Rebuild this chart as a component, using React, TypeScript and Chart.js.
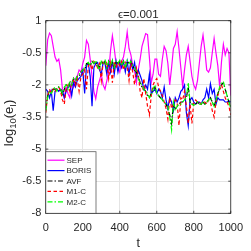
import React, { useEffect, useRef } from "react";
import { Chart, registerables } from "chart.js";

Chart.register(...registerables);

const T = [
  0, 10, 20, 30, 40, 50, 60, 70, 80, 90, 100, 110, 120, 130, 140, 150, 160, 170, 180, 190,
  200, 210, 220, 230, 240, 250, 260, 270, 280, 290, 300, 310, 320, 330, 340, 350, 360, 370, 380, 390,
  400, 410, 420, 430, 440, 450, 460, 470, 480, 490, 500, 510, 520, 530, 540, 550, 560, 570, 580, 590,
  600, 610, 620, 630, 640, 650, 660, 670, 680, 690, 700, 710, 720, 730, 740, 750, 760, 770, 780, 790,
  800, 810, 820, 830, 840, 850, 860, 870, 880, 890, 900, 910, 920, 930, 940, 950, 960, 970, 980, 990, 1000,
];

const SEP = [
  -1.1, 0.1, 0.42, 0.3, -0.2, -0.7, -0.9, -0.8, -1.3, -2.2, -2.6, -2.1, -2.4, -2.6, -1.9, -2.1, -1.7, -1.6, -1.3, -1.4,
  -1.0, -0.7, 0.08, -0.1, -0.8, -1.6, -2.3, -2.65, -2.1, -1.8, -1.5, -2.0, -2.2, -1.8, -1.4, -0.4, 0.3, -0.3, -1.0, -1.2,
  -1.4, -0.9, -0.7, -0.2, 0.47, -0.3, -0.6, -1.1, -1.35, -1.9, -1.3, -0.8, -0.2, 0.1, 0.4, 0.35, -0.7, -1.9, -1.5, -0.8,
  -0.8, -1.5, -1.6, -0.8, -0.2, -0.4, -1.0, -2.0, -1.2, -0.3, -0.1, 0.49, -0.3, -1.2, -2.1, -1.3, -0.6, -0.2, -0.9, -1.6,
  -2.0, -2.2, -1.8, -1.0, -0.2, 0.33, -0.4, -1.3, -1.4, -1.2, -0.5, 0.17, -0.5, -1.1, -2.1, -0.9, -0.1, -0.6, -0.3, -0.5, -2.5,
];

const BORIS = [
  -2.2, -2.3, -2.6, -2.3, -3.2, -2.3, -2.2, -2.3, -2.2, -2.3, -2.6, -2.3, -2.1, -2.0, -2.5, -1.9, -2.1, -1.8, -1.7, -1.6,
  -1.3, -2.4, -1.1, -1.0, -1.6, -3.0, -1.2, -1.0, -0.95, -1.3, -1.5, -0.95, -1.0, -1.5, -0.95, -1.4, -0.9, -1.5, -0.9, -1.4,
  -0.95, -1.2, -0.9, -1.4, -0.9, -1.5, -0.9, -1.3, -0.95, -1.6, -1.3, -1.55, -1.8, -2.2, -2.0, -2.2, -1.5, -2.4, -2.3, -2.2,
  -2.4, -2.2, -2.3, -2.6, -2.1, -2.7, -3.1, -2.6, -2.8, -3.2, -2.6, -2.8, -2.6, -2.3, -2.2, -2.0, -3.3, -3.9, -2.7, -2.6,
  -2.8, -2.9, -2.8, -2.8, -2.9, -2.7, -2.6, -2.2, -2.6, -1.95, -2.4, -2.2, -2.9, -2.6, -2.7, -2.7, -2.7, -2.8, -2.8, -2.75, -2.8,
];

const AVF = [
  -3.1, -2.5, -2.3, -2.3, -2.2, -2.2, -2.2, -2.1, -2.2, -2.5, -2.2, -2.0, -2.1, -1.9, -2.0, -1.7, -1.9, -1.6, -1.6, -1.4,
  -1.3, -1.3, -1.0, -1.0, -1.1, -0.9, -1.0, -0.9, -1.1, -1.2, -0.9, -1.0, -0.9, -1.2, -0.9, -1.1, -0.9, -1.2, -0.9, -1.0,
  -0.9, -1.1, -0.9, -1.2, -0.9, -1.0, -0.9, -1.1, -1.3, -1.4, -1.6, -1.9, -2.1, -2.2, -2.3, -2.5, -2.6, -2.4, -2.2, -2.1,
  -2.4, -2.5, -2.6, -2.7, -2.8, -2.9, -3.1, -3.4, -3.8, -2.9, -3.1, -3.0, -2.9, -2.8, -2.8, -2.7, -2.6, -2.1, -2.8, -2.9,
  -2.9, -2.9, -2.8, -2.9, -2.9, -2.8, -2.9, -2.8, -2.7, -2.6, -2.8, -3.0, -2.7, -2.4, -2.2, -2.0, -1.9, -2.2, -2.5, -2.8, -3.0,
];

const M1C = [
  -3.3, -2.5, -2.2, -2.4, -2.2, -2.3, -2.2, -2.1, -2.3, -2.7, -2.9, -2.2, -2.0, -2.3, -1.9, -1.8, -2.0, -1.7, -2.3, -1.6,
  -1.5, -1.3, -2.2, -1.1, -1.0, -1.3, -0.9, -1.0, -1.2, -1.0, -1.8, -0.95, -1.1, -0.9, -1.7, -1.0, -1.9, -0.9, -1.2, -0.95,
  -1.1, -0.9, -1.3, -0.95, -1.1, -1.8, -1.0, -1.4, -2.0, -1.2, -1.5, -2.3, -2.6, -1.7, -2.4, -3.0, -3.4, -2.5, -2.0, -1.8,
  -1.7, -2.1, -2.3, -2.5, -2.8, -3.1, -3.6, -2.6, -3.1, -2.9, -2.7, -2.8, -3.9, -2.6, -2.7, -2.3, -3.0, -3.8, -2.9, -3.8,
  -2.8, -2.7, -2.8, -2.8, -2.9, -2.8, -2.8, -2.9, -2.7, -2.8, -3.2, -3.5, -2.8, -2.5, -2.2, -2.0, -2.3, -2.6, -2.8, -3.0, -3.4,
];

const M2C = [
  -3.2, -2.6, -2.3, -2.4, -2.2, -2.1, -2.3, -2.1, -2.2, -2.4, -2.1, -2.0, -2.2, -1.8, -2.0, -1.7, -1.8, -1.6, -1.5, -1.4,
  -1.3, -1.2, -1.0, -0.95, -1.1, -0.9, -1.0, -0.85, -1.1, -1.3, -0.9, -1.0, -0.85, -1.2, -0.9, -1.1, -0.85, -1.2, -0.9, -1.0,
  -0.85, -1.1, -0.9, -1.2, -0.85, -1.0, -0.9, -1.1, -1.2, -1.4, -1.7, -1.9, -2.0, -2.2, -2.3, -2.4, -2.6, -2.5, -2.2, -2.0,
  -2.4, -2.5, -2.6, -2.7, -2.8, -2.9, -3.0, -3.5, -4.1, -2.8, -3.2, -3.0, -2.9, -2.9, -2.8, -2.7, -2.6, -1.9, -2.8, -2.9,
  -2.95, -2.9, -2.8, -2.9, -2.9, -2.8, -2.9, -2.8, -2.7, -2.6, -2.8, -3.0, -2.7, -2.4, -2.1, -1.9, -1.85, -2.2, -2.5, -2.8, -3.1,
];

const SERIES_NAMES = ["SEP", "BORIS", "AVF", "M1-C", "M2-C"];
const SERIES_VALUES = [SEP, BORIS, AVF, M1C, M2C];
const SERIES_COLORS = ["#ff00ff", "#0000ff", "#000000", "#ff0000", "#00ff00"];
const SERIES_DASHES: number[][] = [[], [], [5, 2, 1.5, 2], [3.5, 2.5], [5, 2, 1.5, 2]];

const X_TICKS = [0, 200, 400, 600, 800, 1000];
const Y_TICKS = [1, -0.5, -2, -3.5, -5, -6.5, -8];
const TITLE = "\u03F5=0.001";
const X_LABEL = "t";

const FONT = '"Liberation Sans", Arial, Helvetica, sans-serif';
const TEXT = "#262626";

const decor = {
  id: "decor",
  afterDraw(chart: any) {
    const ctx = chart.ctx as CanvasRenderingContext2D;
    const { left, right, top, bottom } = chart.chartArea;
    const xs = chart.scales.x;
    const ys = chart.scales.y;
    ctx.save();
    // box
    ctx.strokeStyle = TEXT;
    ctx.lineWidth = 0.8;
    ctx.setLineDash([]);
    ctx.strokeRect(left, top, right - left, bottom - top);
    // inward ticks
    ctx.beginPath();
    for (const v of X_TICKS) {
      const px = xs.getPixelForValue(v);
      ctx.moveTo(px, bottom);
      ctx.lineTo(px, bottom - 2.5);
      ctx.moveTo(px, top);
      ctx.lineTo(px, top + 2.5);
    }
    for (const v of Y_TICKS) {
      const py = ys.getPixelForValue(v);
      ctx.moveTo(left, py);
      ctx.lineTo(left + 2.5, py);
      ctx.moveTo(right, py);
      ctx.lineTo(right - 2.5, py);
    }
    ctx.stroke();

    // title
    ctx.fillStyle = TEXT;
    ctx.font = `11.5px ${FONT}`;
    ctx.textAlign = "center";
    ctx.textBaseline = "alphabetic";
    ctx.fillText(TITLE, (left + right) / 2, 18.3);

    // x label
    ctx.font = `12.5px ${FONT}`;
    ctx.fillText(X_LABEL, (left + right) / 2, 246.5);

    // y label: log_10(e_I)
    const base = 13;
    const sub = 9.5;
    const parts: [string, boolean][] = [["log", false], ["10", true], ["(e", false], ["I", true], [")", false]];
    let total = 0;
    for (const [s, isSub] of parts) {
      ctx.font = `${isSub ? sub : base}px ${FONT}`;
      total += ctx.measureText(s).width;
    }
    ctx.translate(12.5, 123);
    ctx.rotate(-Math.PI / 2);
    ctx.textAlign = "left";
    let cx = -total / 2;
    for (const [s, isSub] of parts) {
      ctx.font = `${isSub ? sub : base}px ${FONT}`;
      ctx.fillText(s, cx, isSub ? 3 : 0);
      cx += ctx.measureText(s).width;
    }
    ctx.setTransform(1, 0, 0, 1, 0, 0);

    // legend
    const lx0 = left;
    const lx1 = 96;
    const ly0 = 151.7;
    const ly1 = bottom;
    ctx.fillStyle = "#ffffff";
    ctx.fillRect(lx0, ly0, lx1 - lx0, ly1 - ly0);
    ctx.strokeStyle = "rgba(38,38,38,0.75)";
    ctx.lineWidth = 0.8;
    ctx.strokeRect(lx0, ly0, lx1 - lx0, ly1 - ly0);
    ctx.font = `8px ${FONT}`;
    ctx.textAlign = "left";
    ctx.textBaseline = "middle";
    SERIES_NAMES.forEach((name, i) => {
      const y = 160.2 + i * 10.4;
      ctx.strokeStyle = SERIES_COLORS[i];
      ctx.lineWidth = 1.2;
      ctx.setLineDash(SERIES_DASHES[i]);
      ctx.beginPath();
      ctx.moveTo(47.5, y);
      ctx.lineTo(64.5, y);
      ctx.stroke();
      ctx.setLineDash([]);
      ctx.fillStyle = TEXT;
      ctx.fillText(name, 66.5, y + 0.5);
    });
    ctx.restore();
  },
};

export default function App() {
  const ref = useRef<HTMLCanvasElement | null>(null);
  useEffect(() => {
    if (!ref.current) return;
    const datasets = SERIES_NAMES.map((name, i) => ({
      label: name,
      data: T.map((t, k) => ({ x: t, y: SERIES_VALUES[i][k] })),
      borderColor: SERIES_COLORS[i],
      backgroundColor: SERIES_COLORS[i],
      borderWidth: 1.2,
      borderDash: SERIES_DASHES[i],
      pointRadius: 0,
      tension: 0,
      fill: false,
      order: SERIES_NAMES.length - i,
    }));
    const chart = new Chart(ref.current, {
      type: "line",
      data: { datasets },
      options: {
        animation: false,
        responsive: true,
        maintainAspectRatio: false,
        layout: { padding: { left: 0, right: 12, top: 20.7, bottom: 0 } },
        plugins: { legend: { display: false }, tooltip: { enabled: false }, title: { display: false } },
        scales: {
          x: {
            type: "linear",
            min: 0,
            max: 1000,
            afterBuildTicks: (s: any) => {
              s.ticks = X_TICKS.map((v) => ({ value: v }));
            },
            afterFit: (s: any) => {
              s.height = 37.7;
            },
            ticks: {
              font: { family: FONT, size: 11 },
              color: TEXT,
              padding: 8,
              maxRotation: 0,
              autoSkip: false,
              callback: (v: any) => String(v),
            },
            grid: { color: "#e4e4e4", drawTicks: false, lineWidth: 1 },
            border: { display: false },
          },
          y: {
            type: "linear",
            min: -8,
            max: 1,
            afterBuildTicks: (s: any) => {
              s.ticks = Y_TICKS.map((v) => ({ value: v }));
            },
            afterFit: (s: any) => {
              s.width = 45.8;
            },
            ticks: {
              font: { family: FONT, size: 11 },
              color: TEXT,
              padding: 4.5,
              autoSkip: false,
              callback: (v: any) => String(v),
            },
            grid: { color: "#e4e4e4", drawTicks: false, lineWidth: 1 },
            border: { display: false },
          },
        },
      },
      plugins: [decor],
    });
    return () => chart.destroy();
  }, []);
  return (
    <div style={{ position: "fixed", left: 0, top: 0, width: 251, height: 251, background: "#fff" }}>
      <canvas ref={ref} />
    </div>
  );
}
